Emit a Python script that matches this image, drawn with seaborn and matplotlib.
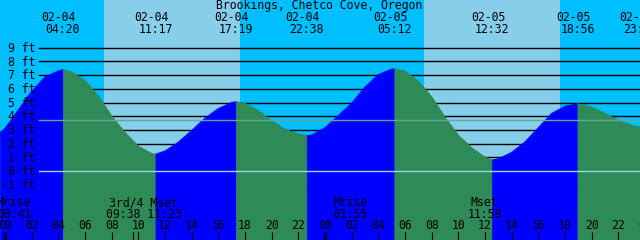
import matplotlib
matplotlib.use("Agg")
import matplotlib.pyplot as plt
import matplotlib.transforms as mtransforms
import pandas as pd
import seaborn as sns

# ---------------- data ----------------
title = "Brookings, Chetco Cove, Oregon"

# hours since 02-04 00:00, tide height in feet
tide_hours = [-0.375, 0, 1, 2, 3, 4, 4.333, 5, 6, 7, 8, 9, 10, 11, 11.283, 12, 13, 14, 15, 16,
              17, 17.317, 18, 19, 20, 21, 22, 22.633, 23, 24, 25, 26, 27, 28, 29, 29.2, 30, 31,
              32, 33, 34, 35, 36, 36.533, 37, 38, 39, 40, 41, 42, 42.933, 44, 45, 46, 47,
              47.625]
tide_feet = [2.8, 3.1, 4.45, 5.8, 6.85, 7.3, 7.39, 7.22, 6.6, 5.45, 4.0, 2.8, 1.8, 1.27, 1.22,
             1.45, 2.1, 2.95, 3.85, 4.55, 5.0, 5.05, 4.93, 4.4, 3.65, 3.05, 2.68, 2.58, 2.62,
             3.15, 4.04, 4.94, 6.12, 7.03, 7.43, 7.46, 7.28, 6.55, 5.4, 3.9, 2.6, 1.68, 1.0,
             0.8, 0.88, 1.35, 2.12, 3.15, 4.2, 4.72, 4.9, 4.66, 4.2, 3.7, 3.33, 3.19]

extreme_hours = [4.333, 11.283, 17.317, 22.633, 29.2, 36.533, 42.933, 47.667]
extreme_dates = ["02-04", "02-04", "02-04", "02-04", "02-05", "02-05", "02-05", "02-05"]
extreme_times = ["04:20", "11:17", "17:19", "22:38", "05:12", "12:32", "18:56", "23:40"]

sunrise_hours = [7.425, 31.425]
sunset_hours = [17.625, 41.625]

moon_hours = [0.683, 10.38, 25.917, 35.967]
moon_names = ["Mrise", "3rd/4 Mset", "Mrise", "Mset"]
moon_times = ["00:41", "09:38 11:23", "01:55", "11:58"]
moon_phase_hours = [9.633]

hour_ticks = [0, 2, 4, 6, 8, 10, 12, 14, 16, 18, 20, 22, 24, 26, 28, 30, 32, 34, 36, 38, 40,
              42, 44, 46, 48]
hour_labels = ["00", "02", "04", "06", "08", "10", "12", "14", "16", "18", "20", "22",
               "00", "02", "04", "06", "08", "10", "12", "14", "16", "18", "20", "22", "00"]

feet_levels = [9, 8, 7, 6, 5, 4, 3, 2, 1, 0, -1]
feet_labels = ["9 ft", "8 ft", "7 ft", "6 ft", "5 ft", "4 ft", "3 ft", "2 ft", "1 ft",
               "0 ft", "-1 ft"]
mean_level = 3.73

# ---------------- styling ----------------
NIGHT = "#00BFFF"
DAY = "#87CEEB"
RISE = "#0000FF"
FALL = "#2E8B57"
MSL = "#62a898"
DATUM = "#9ed6e6"
FONT = dict(family="DejaVu Sans Mono", size=8.3, color="black")

W, H = 640, 240
PX_PER_FT = 13.7
Y0_PX = 171.0  # pixel row of 0 ft
XMIN, XMAX = -0.375, 47.625
YMIN = (Y0_PX - H) / PX_PER_FT
YMAX = Y0_PX / PX_PER_FT

fig = plt.figure(figsize=(6.4, 2.4), dpi=100, facecolor=NIGHT)
ax = fig.add_axes([0, 0, 1, 1])
ax.set_xlim(XMIN, XMAX)
ax.set_ylim(YMIN, YMAX)
ax.set_axis_off()

# sky bands
ax.axvspan(XMIN, XMAX, color=NIGHT, lw=0, zorder=0)
for a, b in zip(sunrise_hours, sunset_hours):
    ax.axvspan(a, b, color=DAY, lw=0, zorder=0.1)

# foot lines
for lv in feet_levels:
    ax.axhline(lv, xmin=39 / W, xmax=1, color="black", lw=1.0, zorder=1)

# tide segments
bounds = [tide_hours[0]] + [h for h in extreme_hours if h < tide_hours[-1]] + [tide_hours[-1]]
rows = []
for s in range(len(bounds) - 1):
    a, b = bounds[s], bounds[s + 1]
    phase = "rising" if s % 2 == 0 else "falling"
    for h, f in zip(tide_hours, tide_feet):
        if a - 1e-9 <= h <= b + 1e-9:
            rows.append((s, phase, h, f))
df = pd.DataFrame(rows, columns=["seg", "phase", "hour", "ft"])
palette = {"rising": RISE, "falling": FALL}

for s, g in df.groupby("seg"):
    c = palette[g["phase"].iloc[0]]
    ax.fill_between(g["hour"], g["ft"], YMIN, facecolor=c, edgecolor=c, lw=0.5, zorder=2)

sns.lineplot(data=df, x="hour", y="ft", hue="phase", units="seg", estimator=None,
             palette=palette, legend=False, lw=0.8, ax=ax, zorder=2.5)
ax.set_xlim(XMIN, XMAX)
ax.set_ylim(YMIN, YMAX)
ax.set_axis_off()

# mean and datum lines
ax.axhline(mean_level, xmin=39 / W, xmax=1, color=MSL, lw=1.0, zorder=3)
ax.axhline(0, xmin=39 / W, xmax=1, color=DATUM, lw=1.0, zorder=3)

def yfrac(px):
    return 1 - px / H

tx = mtransforms.blended_transform_factory(ax.transData, ax.transAxes)
ty = mtransforms.blended_transform_factory(ax.transAxes, ax.transData)

# title
ax.text(319.5 / W, yfrac(9.3), title, transform=ax.transAxes, ha="center", va="baseline",
        zorder=5, **FONT)

# tide event labels
for h, d, t in zip(extreme_hours, extreme_dates, extreme_times):
    ax.text(h - 0.3, yfrac(20.7), d, transform=tx, ha="center", va="baseline", zorder=5, **FONT)
    ax.text(h, yfrac(33.3), t, transform=tx, ha="center", va="baseline", zorder=5, **FONT)

# foot labels
for lv, lab in zip(feet_levels, feet_labels):
    ax.text(35.8 / W, lv - 4.3 / PX_PER_FT, lab, transform=ty, ha="right", va="baseline",
            zorder=5, **FONT)

# moon labels
for h, n, t in zip(moon_hours, moon_names, moon_times):
    ax.text(h, yfrac(206), n, transform=tx, ha="center", va="baseline", zorder=5, **FONT)
    ax.text(h, yfrac(217.7), t, transform=tx, ha="center", va="baseline", zorder=5, **FONT)

# hour labels and ticks
for h, lab in zip(hour_ticks, hour_labels):
    ax.text(h, yfrac(229.3), lab, transform=tx, ha="center", va="baseline", zorder=5, **FONT)
    lw = 1.8 if h % 24 == 0 else 0.8
    ax.vlines(h, 0, 8 / H, transform=tx, color="black", lw=lw, zorder=5)
for h in moon_phase_hours:
    ax.vlines(h, 0, 8 / H, transform=tx, color="black", lw=0.8, zorder=5)

fig.savefig("out.png", dpi=100, facecolor=NIGHT)
